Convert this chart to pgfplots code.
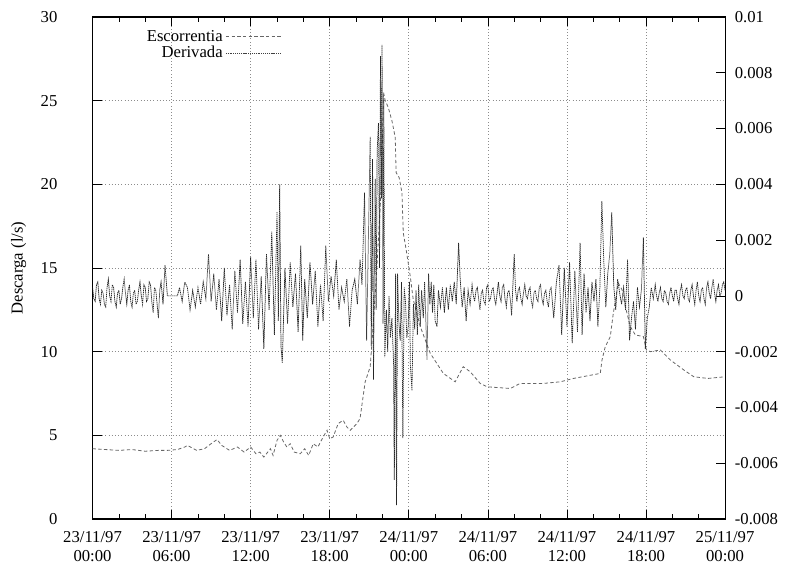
\documentclass[border=0pt]{standalone}
\usepackage{pgfplots}
\pgfplotsset{compat=1.18}
\usepackage{pgfplotstable}
\usepackage{fontspec}
\setmainfont{Liberation Serif}

\pgfplotstableread{
t q
0 4.2
1 4.15
2 4.1
3 4.15
4 4.05
5 4.1
5.68 4.1
6.44 4.15
7.0 4.3
7.2 4.4
7.9 4.1
8.5 4.2
9.0 4.5
9.45 4.75
9.8 4.4
10.4 4.1
11.0 4.3
11.5 4.0
12.0 4.3
12.4 3.9
12.7 4.0
13.0 3.7
13.5 4.2
13.7 3.8
14.0 4.7
14.25 5.0
14.5 4.6
14.75 4.3
15.0 4.5
15.3 4.0
15.76 3.9
16.1 4.2
16.4 3.8
16.75 4.5
17.1 4.3
17.5 4.9
17.8 5.3
18.0 4.8
18.26 4.9
18.64 5.7
19.02 5.9
19.3 5.5
19.55 5.3
20.06 5.7
20.3 6.0
20.44 6.8
20.69 8.2
21.07 9.1
21.2 10.5
21.5 14.0
21.83 18.6
21.96 21.3
22.08 25.5
22.21 25.0
22.44 24.6
22.72 23.8
22.97 22.8
23.04 20.7
23.27 20.4
23.48 19.5
23.58 17.1
23.8 16.1
24.11 14.5
24.34 13.1
24.87 11.5
25.63 9.9
26.62 8.7
27.52 8.2
28.13 9.1
28.66 8.8
29.42 8.1
29.95 7.9
31.7 7.8
32.45 8.1
34.2 8.1
35.5 8.2
36.5 8.4
38.53 8.7
38.66 9.5
38.91 10.3
39.29 10.9
39.52 12.3
39.9 14.1
40.18 13.7
40.43 12.7
40.81 11.5
41.19 11.0
41.8 10.9
42.03 10.1
42.33 10.0
43.09 10.1
43.85 9.5
44.88 8.9
45.63 8.5
46.7 8.4
48 8.5
}\escorrentia

% derivative in units of 0.001
\pgfplotstableread{
t d
0.0 0.3
0.1 -0.1
0.2 -0.2
0.3 0.4
0.4 0.5
0.5 -0.1
0.6 -0.3
0.7 0.2
0.8 0.1
0.9 -0.3
1.0 -0.4
1.1 0.3
1.2 0.6
1.3 0.0
1.4 -0.2
1.5 0.4
1.6 0.3
1.7 -0.2
1.8 -0.4
1.9 0.1
2.0 0.2
2.1 -0.3
2.2 -0.1
2.3 0.3
2.4 0.6
2.5 0.1
2.6 -0.3
2.7 0.2
2.8 0.4
2.9 -0.2
3.0 -0.4
3.1 0.1
3.2 0.2
3.3 -0.3
3.4 -0.2
3.5 0.2
3.6 0.5
3.7 0.0
3.8 -0.3
3.9 0.4
4.0 0.3
4.1 -0.2
4.2 -0.1
4.3 0.5
4.4 0.4
4.5 -0.2
4.6 -0.6
4.7 0.3
4.8 0.2
4.9 -0.3
5.0 -0.8
5.1 0.2
5.2 0.5
5.35 -0.3
5.5 1.1
5.68 0
6.44 0
6.6 0.3
6.8 -0.2
7.0 0.5
7.2 0.3
7.4 -0.5
7.6 0.2
7.8 -0.4
8.0 0.3
8.2 -0.3
8.4 0.5
8.6 -0.1
8.8 1.5
9.0 -0.2
9.2 0.8
9.4 -0.5
9.6 0.6
9.8 -0.9
10.0 1.0
10.2 -0.7
10.4 0.4
10.6 -1.2
10.8 0.9
11.0 -0.6
11.2 1.3
11.4 -1.0
11.6 0.5
11.8 -1.1
12.0 1.4
12.2 -0.8
12.4 1.3
12.6 -1.2
12.8 0.7
13.0 -1.9
13.2 1.5
13.4 -0.5
13.6 2.3
13.8 -1.4
14.0 3.0
14.1 -0.9
14.2 4.0
14.3 -1.8
14.4 -2.4
14.6 1.0
14.8 -1.0
15.0 1.2
15.2 -0.4
15.4 0.8
15.6 -1.3
15.8 1.8
15.95 -1.6
16.1 0.6
16.3 -0.8
16.5 1.2
16.7 -0.3
16.9 0.9
17.1 -1.1
17.3 0.4
17.5 -0.9
17.7 1.8
17.9 -0.2
18.1 0.7
18.3 0
18.5 1.3
18.7 -0.5
18.9 0.3
19.1 -0.2
19.3 0.6
19.5 -1.1
19.7 0.2
19.9 0.6
20.1 -0.3
20.3 1.3
20.45 0.4
20.64 3.7
20.8 -1.6
20.95 2.5
21.07 5.7
21.15 -1.8
21.25 4.9
21.32 -3.0
21.45 4.2
21.52 -0.5
21.6 5.2
21.7 6.2
21.78 1.0
21.85 8.6
21.92 3.5
21.97 9.0
22.05 -1.0
22.1 7.1
22.18 -2.2
22.3 -0.5
22.4 -2.0
22.5 0
22.6 -1.5
22.72 -0.8
22.85 -2.5
22.9 -6.6
23.0 0.8
23.07 -7.5
23.15 0.8
23.25 -1.0
23.35 -1.6
23.45 0.5
23.55 -5.1
23.65 0.3
23.75 -0.2
23.85 -1.5
23.95 -1.1
24.05 0.5
24.12 -2.5
24.24 -3.4
24.35 -0.3
24.45 -1.2
24.55 0.2
24.65 -1.4
24.75 0.4
24.87 -1.1
24.97 0.2
25.1 -0.8
25.2 0.5
25.3 -1.0
25.38 -2.3
25.5 0.8
25.6 -0.3
25.7 0.5
25.8 -0.6
25.9 0.4
26.0 -0.9
26.14 -1.1
26.25 0.2
26.4 -0.4
26.55 0.3
26.7 -0.6
26.85 0.3
27.0 -0.5
27.15 0.4
27.3 -0.2
27.45 0.5
27.6 -0.3
27.78 1.9
27.9 0.6
28.05 -0.4
28.2 0.3
28.35 -0.9
28.5 0.2
28.65 -0.3
28.8 0.4
28.9 0.0
29.0 -0.2
29.1 0.2
29.2 0.3
29.3 -0.1
29.4 -0.5
29.5 0.1
29.6 0.2
29.7 -0.2
29.8 -0.3
29.9 0.3
30.0 0.4
30.1 -0.2
30.2 -0.1
30.3 0.2
30.4 0.3
30.5 -0.1
30.6 -0.3
30.7 0.1
30.8 0.5
30.9 0.0
31.0 -0.2
31.1 0.3
31.2 0.4
31.3 -0.1
31.4 -0.4
31.5 0.1
31.6 0.2
31.7 -0.1
31.8 -0.7
32.0 1.5
32.1 0.2
32.2 -0.2
32.3 0.2
32.4 0.3
32.5 -0.1
32.6 -0.3
32.7 0.1
32.8 0.4
32.9 0.0
33.0 -0.1
33.1 0.2
33.2 0.3
33.3 -0.2
33.4 -0.4
33.5 0.1
33.6 0.2
33.7 -0.1
33.8 -0.2
33.9 0.3
34.0 0.4
34.1 -0.1
34.2 -0.3
34.3 0.1
34.4 0.2
34.5 -0.2
34.6 -0.4
34.7 0.2
34.8 0.3
35.0 -0.8
35.2 0.5
35.4 1.1
35.6 -1.4
35.8 1.0
36.0 -1.1
36.2 1.2
36.4 -1.7
36.6 0.9
36.8 -1.3
37.0 1.9
37.15 -1.4
37.3 0.8
37.45 -0.6
37.6 0.3
37.75 -0.9
37.9 0.5
38.05 -0.2
38.2 0.6
38.35 -1.1
38.5 0.3
38.65 3.4
38.8 1.2
38.95 -0.4
39.1 0.8
39.25 1.5
39.4 3.0
39.55 0.4
39.7 -0.5
39.85 0.6
40.0 0.1
40.15 -0.3
40.3 0.3
40.45 -0.5
40.6 1.3
40.75 -1.6
40.9 -0.8
41.05 -0.2
41.2 -1.2
41.35 0.3
41.5 -0.4
41.65 0.2
41.8 2.1
41.95 -1.9
42.1 -0.8
42.25 -0.4
42.4 0.3
42.55 -0.1
42.7 0.4
42.8 0.0
42.9 -0.2
43.0 0.1
43.1 0.3
43.2 -0.1
43.3 -0.2
43.4 0.2
43.5 0.1
43.6 -0.2
43.7 -0.3
43.8 0.1
43.9 0.3
44.0 0.0
44.1 -0.2
44.2 0.2
44.3 0.2
44.4 -0.1
44.5 -0.3
44.6 0.2
44.7 0.4
44.8 0.0
44.9 -0.1
45.0 0.2
45.1 0.3
45.2 -0.1
45.3 -0.2
45.4 0.2
45.5 0.4
45.6 0.0
45.7 -0.3
45.8 0.2
45.9 0.5
46.0 0.0
46.1 -0.2
46.2 0.2
46.3 0.3
46.4 -0.1
46.5 -0.3
46.6 0.3
46.7 0.5
46.8 0.1
46.9 -0.1
47.0 0.3
47.1 0.6
47.2 0.1
47.3 -0.2
47.4 0.2
47.5 0.4
47.6 0.0
47.7 0.1
47.8 0.4
47.9 0.5
48.0 0.2
}\derivada

\begin{document}
\fontsize{12.5}{14}\selectfont
\begin{tikzpicture}
\pgfplotsset{
  every axis/.append style={
    scale only axis,
    width=474.4pt, height=376.5pt,
    xmin=0, xmax=48,
    tick style={black, line width=0.5pt},
    major tick length=7pt, minor tick length=4pt,
    /pgf/number format/assume math mode=true,
    tick label style={font=\fontsize{12.5}{14}\selectfont},
    label style={font=\fontsize{12.5}{14}\selectfont},
  },
}
\begin{axis}[
  name=main,
  ymin=0, ymax=30,
  ytick={0,5,...,30},
  ytick pos=left,
  yticklabel style={xshift=-22pt},
  xtick={0,6,...,48},
  minor x tick num=2,
  xticklabels={{23/11/97\\00:00},{23/11/97\\06:00},{23/11/97\\12:00},{23/11/97\\18:00},{24/11/97\\00:00},{24/11/97\\06:00},{24/11/97\\12:00},{24/11/97\\18:00},{25/11/97\\00:00}},
  xticklabel style={align=center, yshift=-5pt},
  grid=major,
  major grid style={black!45, dotted, line width=0.5pt},
  axis line style={black, line width=0.8pt},
  ylabel={Descarga (l/s)},
  ylabel style={at={(axis description cs:-0.117,0.5)}, anchor=center},
  legend style={draw=none, fill=none, at={(0.305,0.985)}, anchor=north east,
    font=\fontsize{12.5}{14}\selectfont, row sep=-2pt},
  legend cell align=right,
  legend plot pos=right,
  legend image code/.code={\draw[#1] (0cm,0cm) -- (1.45cm,0cm);},
]
\addplot[black!60, line width=0.6pt, dash pattern=on 2.5pt off 1.8pt] table[x=t,y=q] {\escorrentia};
\addlegendentry{Escorrentia}
\addlegendimage{black!75, line width=0.6pt, dash pattern=on 0.8pt off 0.6pt}
\addlegendentry{Derivada}
\end{axis}
\begin{axis}[
  ymin=-8, ymax=10,
  axis x line=none,
  axis y line*=right,
  axis line style={black, line width=0.8pt},
  ytick={-8,-6,...,10},
  yticklabels={-0.008,-0.006,-0.004,-0.002,0,0.002,0.004,0.006,0.008,0.01},
  ytick pos=right,
  yticklabel style={xshift=3pt},
]
\addplot[black!85, line width=0.55pt, dash pattern=on 1pt off 0.5pt] table[x=t,y=d] {\derivada};
\end{axis}
\pgfresetboundingbox
\path (main.south west) ++(-69.4pt,-35.25pt) rectangle ++(591.75pt,424.5pt);
\end{tikzpicture}
\end{document}
